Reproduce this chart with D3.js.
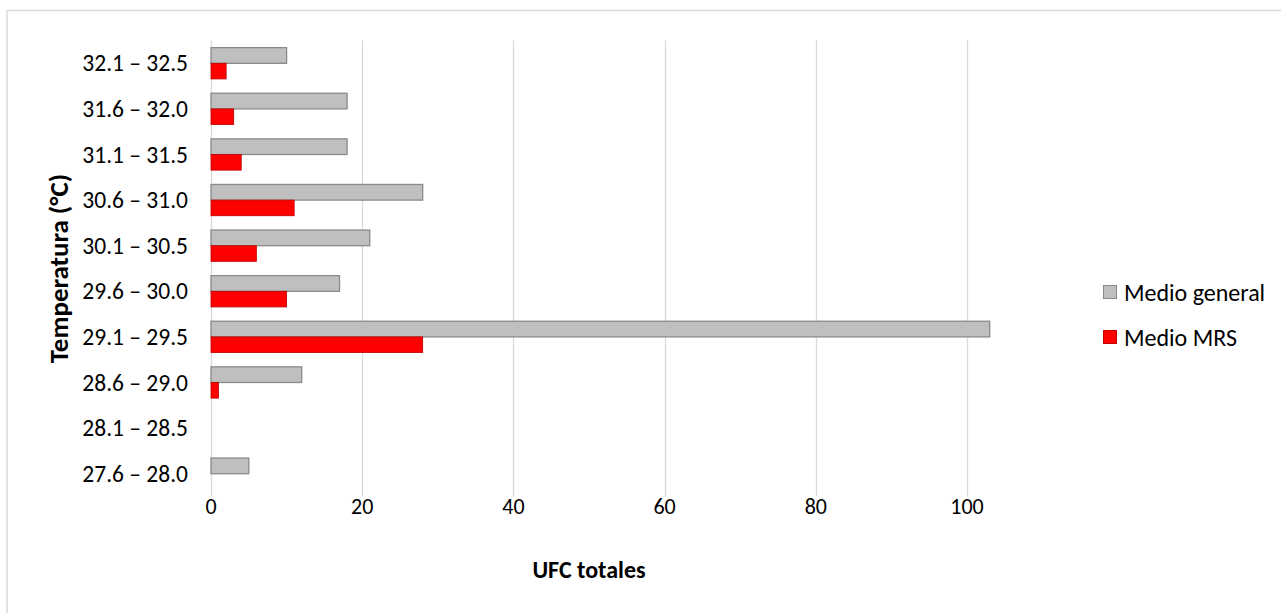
<!DOCTYPE html>
<html>
<head>
<meta charset="utf-8">
<script src="https://cdn.jsdelivr.net/npm/d3@7"></script>
<style>
  html, body { margin: 0; padding: 0; background: #fff; }
  svg { display: block; }
  text { font-family: Carlito, Lato, "Open Sans", sans-serif; fill: #000; }
</style>
</head>
<body>
<svg id="chart" width="1281" height="613"></svg>
<script>
// ---- data ----
const categories = ["32.1 – 32.5", "31.6 – 32.0", "31.1 – 31.5", "30.6 – 31.0", "30.1 – 30.5",
                    "29.6 – 30.0", "29.1 – 29.5", "28.6 – 29.0", "28.1 – 28.5", "27.6 – 28.0"];
const medioGeneral = [10, 18, 18, 28, 21, 17, 103, 12, 0, 5];
const medioMRS     = [2, 3, 4, 11, 6, 10, 28, 1, 0, 0];
const seriesNames  = ["Medio general", "Medio MRS"];
const xTicks       = [0, 20, 40, 60, 80, 100];
const xTitle = "UFC totales";
const yTitle = "Temperatura (°C)";

// ---- drawing ----
const svg = d3.select("#chart");
const fills   = ["#bfbfbf", "#ff0000"];
const strokes = ["#8a8a8a", "#c00000"];

// chart border
svg.append("rect").attr("x", 7).attr("y", 10.5).attr("width", 1290).attr("height", 620)
  .attr("fill", "none").attr("stroke", "#d9d9d9").attr("stroke-width", 1.5);

const plotTop = 40.5, plotBottom = 496.5;
const x = d3.scaleLinear().domain([0, 100]).range([211, 967]);
const y = d3.scaleBand().domain(categories).range([plotTop, plotBottom])
  .paddingInner(0.314).paddingOuter(0.157);
const sub = d3.scaleBand().domain(seriesNames).range([0, y.bandwidth()]);

// gridlines
svg.append("g").selectAll("line").data(xTicks).join("line")
  .attr("x1", d => Math.round(x(d)) + 0.5).attr("x2", d => Math.round(x(d)) + 0.5)
  .attr("y1", plotTop).attr("y2", plotBottom)
  .attr("stroke", "#d9d9d9").attr("stroke-width", 1.3);

// x tick labels
svg.append("g").selectAll("text").data(xTicks).join("text")
  .attr("x", d => x(d)).attr("y", 506)
  .attr("text-anchor", "middle").attr("dominant-baseline", "central")
  .style("font-size", "22px").text(d => d);

// bars
const rows = categories.map((c, i) => ({ c, vals: [medioGeneral[i], medioMRS[i]] }));
const g = svg.append("g");
rows.forEach(r => {
  r.vals.forEach((v, j) => {
    if (v <= 0) return;
    g.append("rect")
      .attr("x", x(0))
      .attr("y", y(r.c) + sub(seriesNames[j]))
      .attr("width", x(v) - x(0))
      .attr("height", sub.bandwidth())
      .attr("fill", fills[j])
      .attr("stroke", strokes[j])
      .attr("stroke-width", j === 0 ? 1.3 : 0.8);
  });
});

// y tick labels
svg.append("g").selectAll("text").data(categories).join("text")
  .attr("x", 188).attr("y", d => y(d) + y.bandwidth() / 2)
  .attr("text-anchor", "end").attr("dominant-baseline", "central")
  .style("font-size", "23.5px").text(d => d);

// axis titles
svg.append("text").attr("x", (x(0) + x(100)) / 2).attr("y", 569)
  .attr("text-anchor", "middle").attr("dominant-baseline", "central")
  .style("font-size", "24px").style("font-weight", "bold").text(xTitle);
svg.append("text")
  .attr("transform", `translate(58,${(plotTop + plotBottom) / 2}) rotate(-90)`)
  .attr("text-anchor", "middle").attr("dominant-baseline", "central")
  .style("font-size", "27px").style("font-weight", "bold").text(yTitle);

// legend
const legend = svg.append("g");
seriesNames.forEach((n, j) => {
  const cy = 292 + j * 45;
  legend.append("rect").attr("x", 1103.5).attr("y", cy - 6.5).attr("width", 13).attr("height", 13)
    .attr("fill", fills[j]).attr("stroke", strokes[j]).attr("stroke-width", 1);
  legend.append("text").attr("x", 1124).attr("y", cy)
    .attr("dominant-baseline", "central").style("font-size", "24px").text(n);
});
</script>
</body>
</html>
